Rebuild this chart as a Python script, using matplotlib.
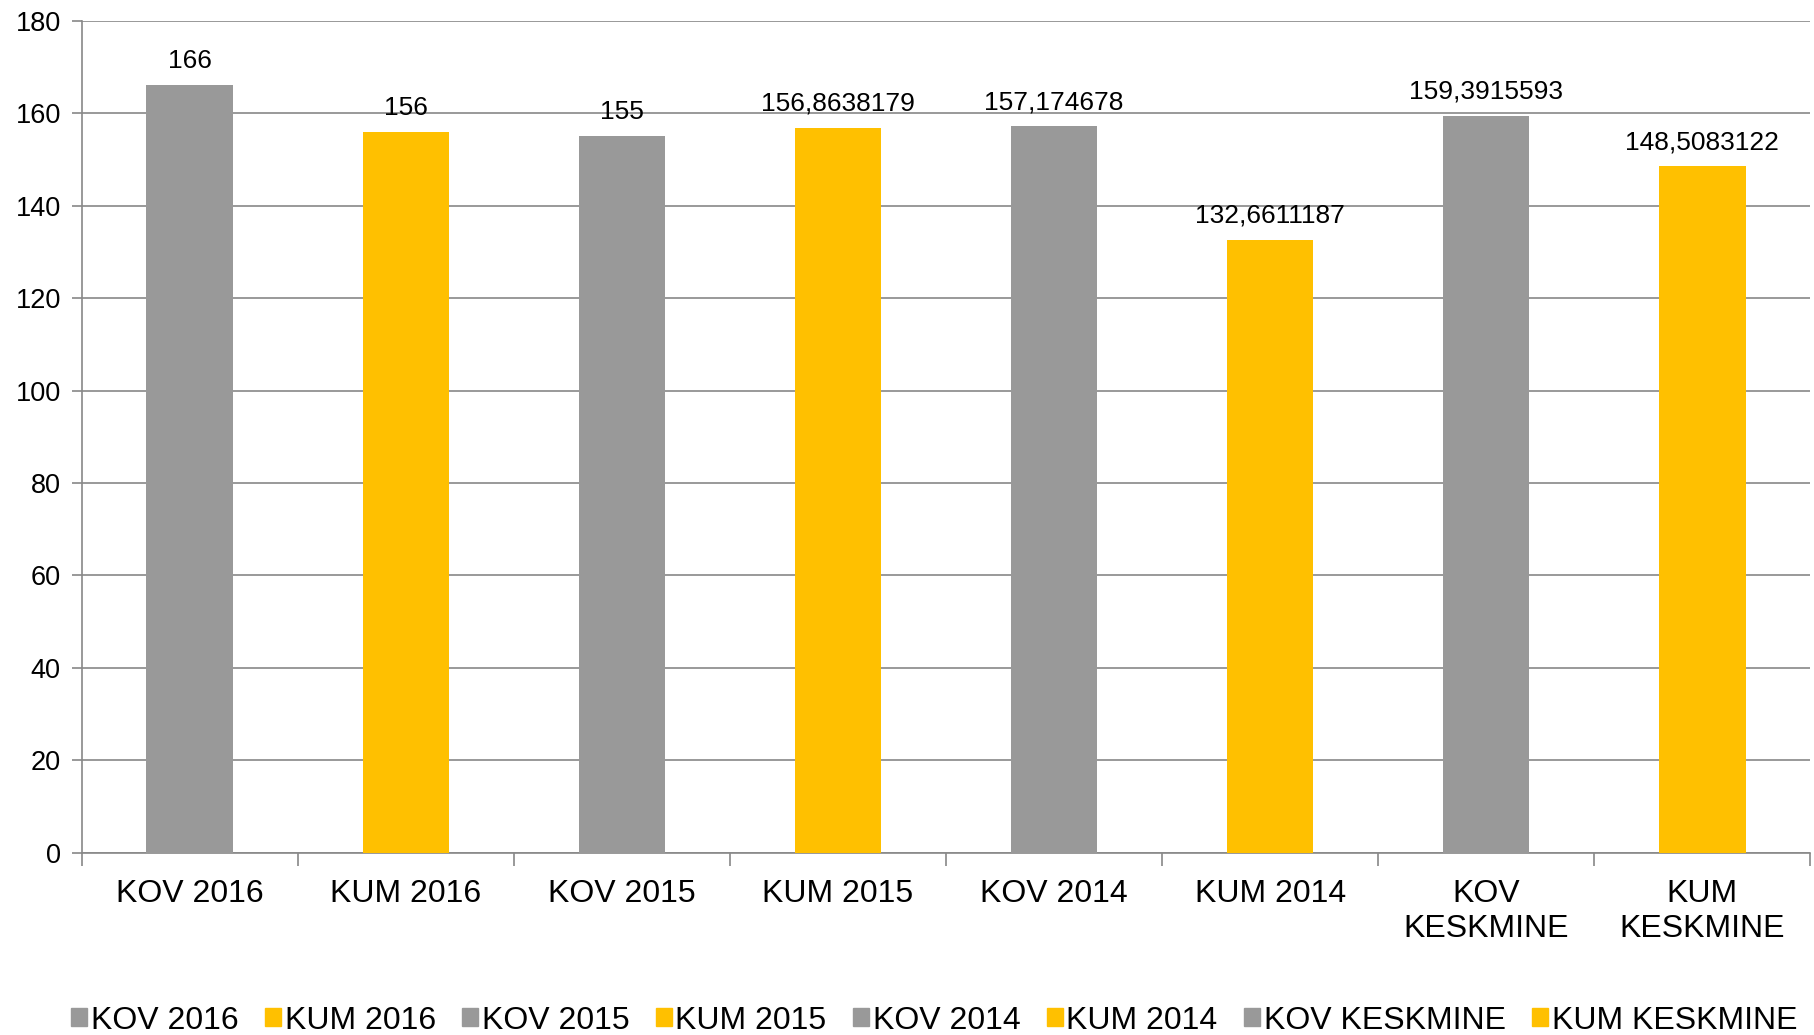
import numpy as np
import matplotlib.pyplot as plt
from matplotlib.patches import Patch

plt.rcParams['font.family'] = ['Liberation Sans', 'DejaVu Sans']

# andmed
kategooriad = ['KOV 2016', 'KUM 2016', 'KOV 2015', 'KUM 2015', 'KOV 2014',
               'KUM 2014', 'KOV\nKESKMINE', 'KUM\nKESKMINE']
legendi_nimed = ['KOV 2016', 'KUM 2016', 'KOV 2015', 'KUM 2015', 'KOV 2014',
                 'KUM 2014', 'KOV KESKMINE', 'KUM KESKMINE']
vaartused = [166, 156, 155, 156.8638179, 157.174678, 132.6611187,
             159.3915593, 148.5083122]
sildid = ['166', '156', '155', '156,8638179', '157,174678', '132,6611187',
          '159,3915593', '148,5083122']

hall = '#999999'
kollane = '#FFC000'
varvid = [hall, kollane] * 4

fig = plt.figure(figsize=(18.14, 10.35), dpi=100)
ax = fig.add_axes([0.045, 0.176, 0.953, 0.804])

x = np.arange(len(kategooriad))
ax.bar(x, vaartused, width=0.4, color=varvid, zorder=3)

for xi, v, s in zip(x, vaartused, sildid):
    ax.text(xi, v + 2.6, s, ha='center', va='bottom', fontsize=19)

ax.set_xlim(-0.5, len(kategooriad) - 0.5)
ax.set_ylim(0, 180)
ax.set_yticks(range(0, 181, 20))
ax.tick_params(axis='y', labelsize=19.5, length=7, color='#888888', width=1.2, pad=8)
ax.yaxis.grid(True, color='#888888', linewidth=1.2, zorder=0)

ax.set_xticks(x)
ax.set_xticklabels(kategooriad, fontsize=23, linespacing=1.2)
ax.tick_params(axis='x', length=0, pad=19)
ax.set_xticks(np.arange(-0.5, len(kategooriad), 1), minor=True)
ax.tick_params(axis='x', which='minor', length=9, color='#888888', width=1.2)

for s in ['top', 'right']:
    ax.spines[s].set_visible(False)
for s in ['left', 'bottom']:
    ax.spines[s].set_color('#888888')
    ax.spines[s].set_linewidth(1.2)

kasted = [Patch(color=c) for c in varvid]
fig.legend(kasted, legendi_nimed, loc='center', bbox_to_anchor=(0.515, 0.014),
           ncol=8, frameon=False, fontsize=23, handlelength=0.5, handleheight=0.5,
           handletextpad=0.12, columnspacing=0.82)

fig.savefig('out.png', dpi=100)
